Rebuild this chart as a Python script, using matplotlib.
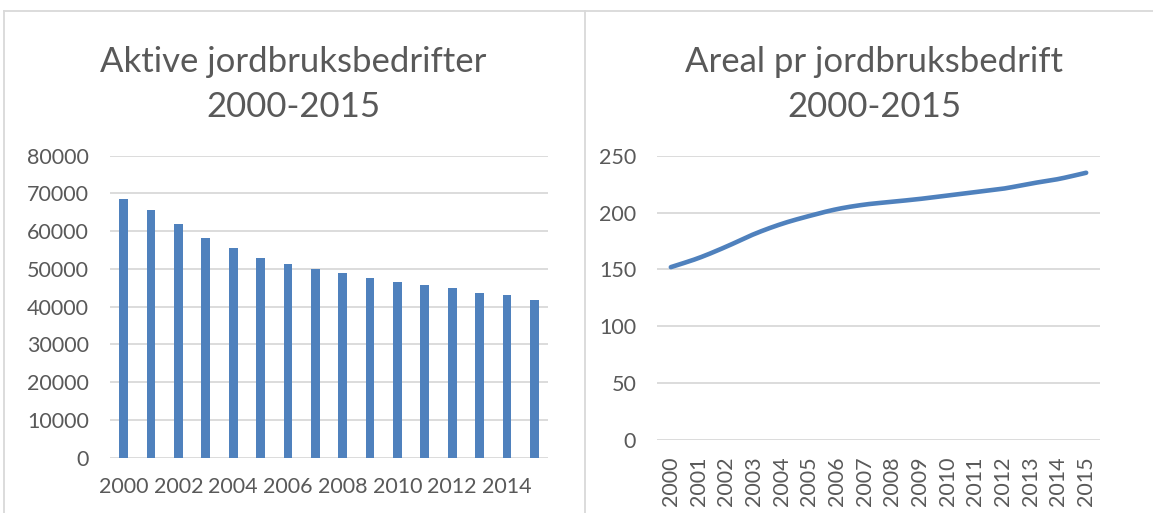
import numpy as np
import matplotlib
matplotlib.use("Agg")
import matplotlib.pyplot as plt
from matplotlib.lines import Line2D

# ---- data ----
years = [str(y) for y in range(2000, 2016)]
farms = [68500, 65700, 61900, 58200, 55500, 53000, 51300, 49900,
         48800, 47700, 46600, 45600, 44800, 43700, 43000, 41800]
area = [152, 160, 170, 181, 190, 197, 203, 207,
        209.5, 212, 215, 218, 221, 225.5, 229.5, 235]
title_left = "Aktive jordbruksbedrifter\n2000-2015"
title_right = "Areal pr jordbruksbedrift\n2000-2015"
left_ticks = [0, 10000, 20000, 30000, 40000, 50000, 60000, 70000, 80000]
right_ticks = [0, 50, 100, 150, 200, 250]

BLUE = "#4F81BD"
TXT = "#595959"
GRID = "#D9D9D9"
FONT = "Lato"

plt.rcParams["font.family"] = [FONT, "DejaVu Sans"]

W, H = 1153, 513
fig = plt.figure(figsize=(W / 100, H / 100), dpi=100)


def fx(px):
    return px / W


def fy(py):
    return 1 - py / H


# panel borders
for (x0, y0, x1, y1) in [(4, 11, 1153, 11), (4, 11, 4, 513), (585, 11, 585, 513)]:
    fig.add_artist(Line2D([fx(x0), fx(x1)], [fy(y0), fy(y1)], color=GRID,
                          lw=1.3, transform=fig.transFigure))


def style(ax):
    for s in ax.spines.values():
        s.set_visible(False)
    ax.yaxis.grid(True, color=GRID, lw=1.3)
    ax.set_axisbelow(True)
    ax.tick_params(axis="both", length=0, colors=TXT, labelsize=15.5)


# ---- left: bar chart ----
axL = fig.add_axes([fx(110), fy(457.5), fx(548 - 110), (457.5 - 155.7) / H])
style(axL)
xL = np.arange(len(years))
axL.bar(xL, farms, width=0.32, color=BLUE, zorder=3)
axL.set_xlim(-0.5, len(years) - 0.5)
axL.set_ylim(0, 80000)
axL.set_yticks(left_ticks)
axL.set_yticklabels([str(v) for v in left_ticks])
axL.set_xticks(xL[::2])
axL.set_xticklabels(years[::2])
axL.tick_params(axis="y", pad=15)
axL.tick_params(axis="x", pad=14)
fig.text(fx(293), fy(117), title_left, ha="center", va="baseline",
         fontsize=25, color=TXT, linespacing=1.5)

# ---- right: smoothed line chart ----
axR = fig.add_axes([fx(657), fy(440), fx(1100 - 657), (440 - 155.7) / H])
style(axR)
xR = np.arange(len(years), dtype=float)
yR = np.asarray(area, dtype=float)

# Catmull-Rom smoothing through the data points
px = np.concatenate([[2 * xR[0] - xR[1]], xR, [2 * xR[-1] - xR[-2]]])
py = np.concatenate([[2 * yR[0] - yR[1]], yR, [2 * yR[-1] - yR[-2]]])
t = np.linspace(0, 1, 20)[:, None]
segs_x, segs_y = [], []
for i in range(1, len(px) - 2):
    p0, p1, p2, p3 = px[i - 1], px[i], px[i + 1], px[i + 2]
    q0, q1, q2, q3 = py[i - 1], py[i], py[i + 1], py[i + 2]
    cx = 0.5 * ((2 * p1) + (-p0 + p2) * t + (2 * p0 - 5 * p1 + 4 * p2 - p3) * t**2
                + (-p0 + 3 * p1 - 3 * p2 + p3) * t**3)
    cy = 0.5 * ((2 * q1) + (-q0 + q2) * t + (2 * q0 - 5 * q1 + 4 * q2 - q3) * t**2
                + (-q0 + 3 * q1 - 3 * q2 + q3) * t**3)
    segs_x.append(cx.ravel())
    segs_y.append(cy.ravel())
axR.plot(np.concatenate(segs_x), np.concatenate(segs_y), color=BLUE, lw=3.3,
         solid_capstyle="round", zorder=3)
axR.set_xlim(-0.5, len(years) - 0.5)
axR.set_ylim(0, 250)
axR.set_yticks(right_ticks)
axR.set_yticklabels([str(v) for v in right_ticks])
axR.set_xticks(xR)
axR.set_xticklabels(years, rotation=90)
axR.tick_params(axis="y", pad=15)
axR.tick_params(axis="x", pad=12)
fig.text(fx(874), fy(117), title_right, ha="center", va="baseline",
         fontsize=25, color=TXT, linespacing=1.5)

fig.savefig("out.png", dpi=100, facecolor="white")
